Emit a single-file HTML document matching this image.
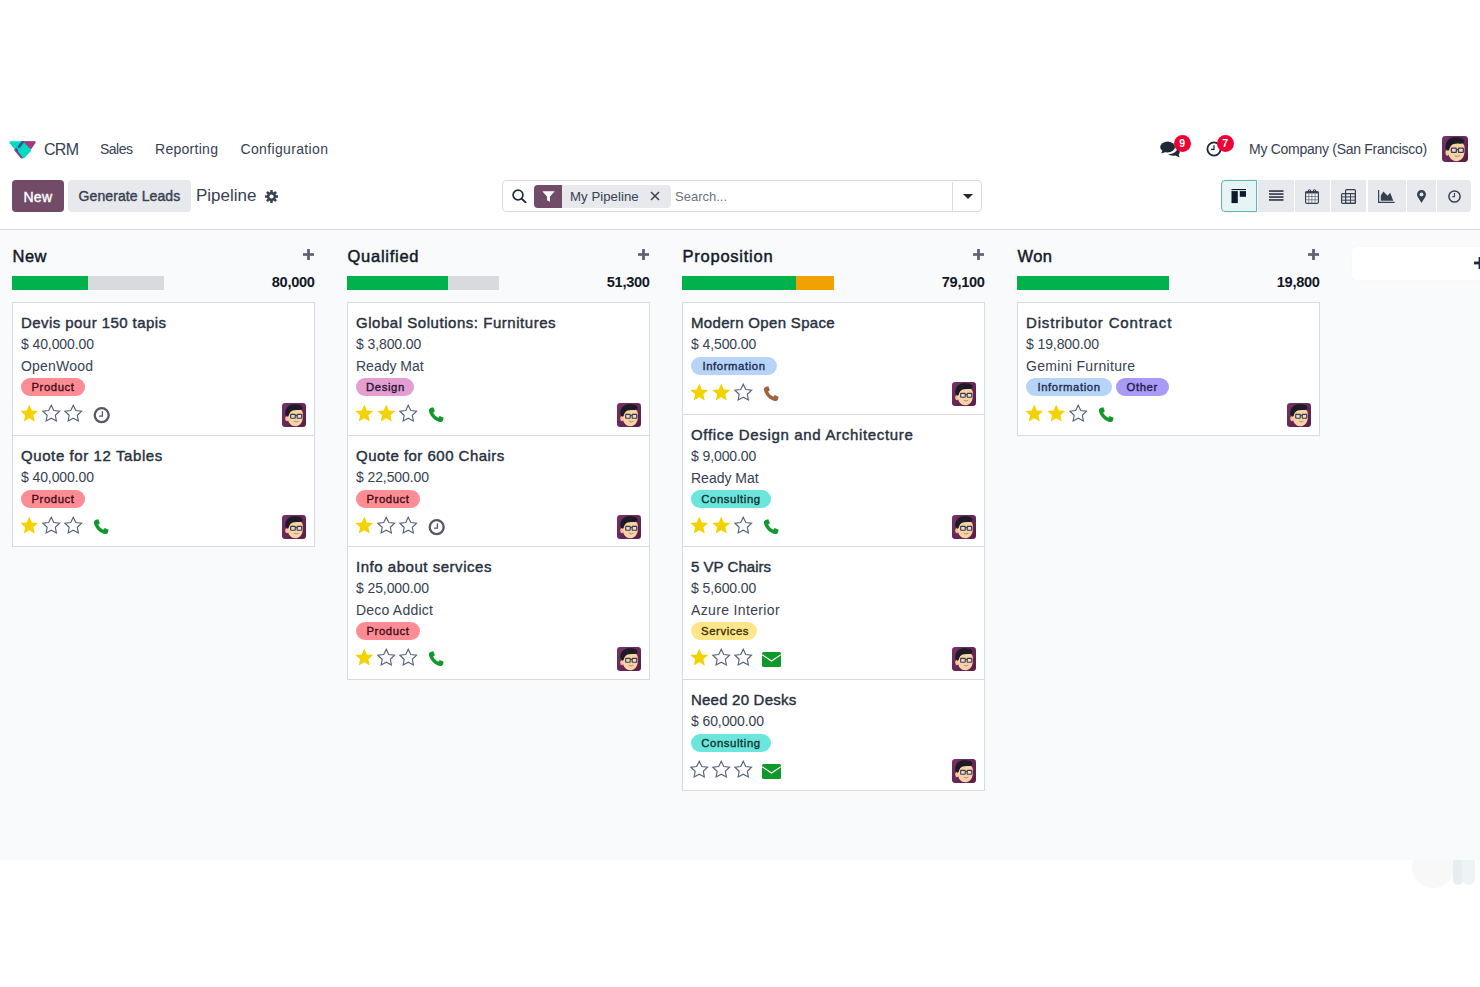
<!DOCTYPE html>
<html><head><meta charset="utf-8"><title>CRM Pipeline</title>
<style>
*{margin:0;padding:0;box-sizing:border-box}
html,body{width:1480px;height:987px;overflow:hidden;background:#fff;
 font-family:"Liberation Sans",sans-serif;color:#374151}
.t{position:absolute;white-space:nowrap}
.a{position:absolute}
#kb{position:absolute;left:0;top:229px;width:1480px;height:631px;background:#f9fafb;border-top:1px solid #d8dadd}
.card{position:absolute;width:303px;background:#fff;border:1px solid #d8dadd}
.tag{position:absolute;height:18.5px;border-radius:9.25px;font-size:11.3px;line-height:18.5px;letter-spacing:0.6px;-webkit-text-stroke:0.35px currentColor;
 padding:0 10px;white-space:nowrap;color:#1f2937}
.bar{position:absolute;height:14px;background:#d8dadd}
</style></head>
<body>
<svg class="a" style="left:9px;top:141px" width="27" height="18" viewBox="0 0 27 18"><path d="M1.6 0.3 L25.4 0.3 Q27.2 0.5 26.2 2.2 L15 16.8 Q13.9 18 12.8 16.8 L0.7 2.2 Q-0.2 0.5 1.6 0.3 Z" fill="#00dcc0"/><path d="M13.6 0.3 L25.4 0.3 Q27.2 0.5 26.2 2.2 L21.9 8.6 Z" fill="#a9367f"/><path d="M4.9 8.9 L7.4 6.9 L14.6 15.2 L13.2 17.2 Q12.4 17.8 11.6 17 Z" fill="#b03a84"/><path d="M7.3 8.4 L13.6 15.7" stroke="#3b4aa0" stroke-width="2.2" stroke-linecap="round"/><path d="M15.2 3.9 Q15.7 3.5 16.2 3.9 L22 9 Q22.5 9.6 22 10.1 L15.2 17 Q14.6 17.5 14 17 L8.9 10.4 Q8.5 9.8 9 9.3 Z" fill="#00dcc0"/><path d="M10 5.8 L13.5 1.3" stroke="#3b4aa0" stroke-width="2.6" stroke-linecap="round"/></svg>
<div class="t" style="left:44px;top:139.15px;font-size:16px;line-height:21px;color:#374151;letter-spacing:-0.7px;">CRM</div>
<div class="t" style="left:100px;top:140.15px;font-size:14px;line-height:18px;color:#374151;letter-spacing:-0.5px;">Sales</div>
<div class="t" style="left:155px;top:140.15px;font-size:14px;line-height:18px;color:#374151;letter-spacing:0.28px;">Reporting</div>
<div class="t" style="left:240.5px;top:140.15px;font-size:14px;line-height:18px;color:#374151;letter-spacing:0.35px;">Configuration</div>
<svg class="a" style="left:1160px;top:141px" width="20" height="17" viewBox="0 0 20 17"><ellipse cx="7.6" cy="6" rx="7.4" ry="5.4" fill="#1f2937"/><path d="M2.6 9.2 L1.3 12.6 L6.6 10.8 Z" fill="#1f2937"/><path d="M8.2 13.1 C12.8 13.2 16.8 11 17.6 7.3 C19.6 8.4 20.2 10.6 19.4 12.4 L18.6 13.4 L19.6 16.4 L15.4 14.4 C12.8 15.2 10 14.6 8.2 13.1 Z" fill="#1f2937"/></svg>
<div class="a" style="left:1173.5px;top:134.8px;width:17.2px;height:17.2px;border-radius:50%;background:#ee0035;color:#fff;font-size:10.5px;line-height:17.2px;text-align:center;font-weight:bold">9</div>
<svg class="a" style="left:1205.5px;top:141px" width="16" height="16" viewBox="0 0 16 16"><circle cx="8" cy="8" r="6.6" fill="none" stroke="#1f2937" stroke-width="1.8"/><path d="M8 4.2V8.3H5" fill="none" stroke="#1f2937" stroke-width="1.3"/></svg>
<div class="a" style="left:1216.5px;top:134.8px;width:17.2px;height:17.2px;border-radius:50%;background:#ee0035;color:#fff;font-size:10.5px;line-height:17.2px;text-align:center;font-weight:bold">7</div>
<div class="t" style="left:1249px;top:140.15px;font-size:14px;line-height:18px;color:#374151;letter-spacing:-0.28px;">My Company (San Francisco)</div>
<div class="a" style="left:1442px;top:136px"><svg width="26" height="26" viewBox="0 0 24 24"><defs><linearGradient id="avg" x1="0" y1="0" x2="1" y2="1"><stop offset="0" stop-color="#76336a"/><stop offset="1" stop-color="#5a1c47"/></linearGradient></defs><rect width="24" height="24" rx="3.2" fill="url(#avg)"/><ellipse cx="4.9" cy="15.6" rx="1.7" ry="2.6" fill="#f2c596"/><path d="M5.6 10 C6 6.5 9 5.6 13 5.6 C17.5 5.6 20.6 7 20.8 10.5 L20.7 15.5 C20.3 20.2 17 23.3 13.2 23.3 C9.2 23.3 6.2 20 5.9 15.8 Z" fill="#f8d2a4"/><path d="M3.4 11.5 C2.6 6 6 1.5 11.5 1.2 C16 1 20.8 1.8 20.6 5.2 C20 6.8 17.5 7.2 14.8 7 C11.8 6.9 9.6 7.6 8.2 9.2 C7.3 10.3 6.8 11.8 6.5 13.2 L5 13.4 Z" fill="#1d1b24"/><rect x="8.7" y="11.3" width="4.5" height="3.9" rx=".5" fill="#e6dcd8" stroke="#3b3a45" stroke-width="1.15"/><rect x="15.2" y="11.3" width="4.5" height="3.9" rx=".5" fill="#e6dcd8" stroke="#3b3a45" stroke-width="1.15"/><path d="M13.2 12.6 H15.2" stroke="#3b3a45" stroke-width="1"/><path d="M11.9 18.2 Q14.2 19.9 16.4 18.1" fill="#c9ccd6" stroke="#8c7e80" stroke-width=".7"/></svg></div>
<div class="a" style="left:12px;top:180.3px;width:52px;height:32.2px;background:#714b67;border-radius:4px"></div>
<div class="t" style="left:23.5px;top:187.55px;font-size:14px;line-height:18px;color:#fff;letter-spacing:0.25px;-webkit-text-stroke:0.4px #fff;">New</div>
<div class="a" style="left:68px;top:180.3px;width:123px;height:32.2px;background:#e7e9ed;border-radius:4px"></div>
<div class="t" style="left:78.5px;top:186.95px;font-size:14px;line-height:18px;color:#374151;letter-spacing:0.1px;-webkit-text-stroke:0.4px #374151;">Generate Leads</div>
<div class="t" style="left:196px;top:184.51px;font-size:17px;line-height:22px;color:#374151;">Pipeline</div>
<svg class="a" style="left:264.5px;top:189.8px" width="13" height="13" viewBox="0 0 13 13"><rect x="5.2" y="0" width="2.6" height="13" rx="0.4" fill="#374151" transform="rotate(0 6.5 6.5)"/><rect x="5.2" y="0" width="2.6" height="13" rx="0.4" fill="#374151" transform="rotate(45 6.5 6.5)"/><rect x="5.2" y="0" width="2.6" height="13" rx="0.4" fill="#374151" transform="rotate(90 6.5 6.5)"/><rect x="5.2" y="0" width="2.6" height="13" rx="0.4" fill="#374151" transform="rotate(135 6.5 6.5)"/><circle cx="6.5" cy="6.5" r="4.5" fill="#374151"/><circle cx="6.5" cy="6.5" r="2.05" fill="#fff"/></svg>
<div class="a" style="left:501.5px;top:180.3px;width:480px;height:32.2px;border:1px solid #d8dadd;border-radius:4px;background:#fff"></div>
<div class="a" style="left:952px;top:181.5px;width:1px;height:30px;background:#d8dadd"></div>
<svg class="a" style="left:511.5px;top:189px" width="15" height="14" viewBox="0 0 15 14"><circle cx="6" cy="6" r="4.9" fill="none" stroke="#1f2937" stroke-width="1.7"/><path d="M9.6 9.6 L13.6 13.4" stroke="#1f2937" stroke-width="1.9" stroke-linecap="round"/></svg>
<div class="a" style="left:534px;top:185px;width:136.5px;height:23px;background:#e7e9ed;border-radius:4px"></div>
<div class="a" style="left:534px;top:185px;width:28px;height:23px;background:#714b67;border-radius:4px 0 0 4px"></div>
<svg class="a" style="left:541.5px;top:191px" width="13" height="11" viewBox="0 0 13 11"><path d="M0.3 0.3 H12.7 L8 5.4 V10.8 L5 9.2 V5.4 Z" fill="#fff"/></svg>
<div class="t" style="left:570px;top:187.92px;font-size:13.2px;line-height:17px;color:#374151;letter-spacing:0.05px;">My Pipeline</div>
<svg class="a" style="left:650px;top:191px" width="10" height="10" viewBox="0 0 10 10"><path d="M1 1 L9 9 M9 1 L1 9" stroke="#374151" stroke-width="1.5"/></svg>
<div class="t" style="left:675px;top:188.19px;font-size:13px;line-height:17px;color:#6b7280;">Search...</div>
<svg class="a" style="left:962.5px;top:194px" width="10" height="5" viewBox="0 0 10 5"><path d="M0 0 H10 L5 5 Z" fill="#1f2937"/></svg>
<div class="a" style="left:1221px;top:180.3px;width:36px;height:32.2px;background:#e6f4f6;border:1px solid #5fb3b5;border-radius:4px 0 0 4px"></div>
<div class="a" style="left:1258px;top:180.3px;width:36px;height:32.2px;background:#e7e9ed;"></div>
<div class="a" style="left:1295px;top:180.3px;width:35px;height:32.2px;background:#e7e9ed;"></div>
<div class="a" style="left:1331px;top:180.3px;width:35px;height:32.2px;background:#e7e9ed;"></div>
<div class="a" style="left:1368px;top:180.3px;width:38px;height:32.2px;background:#e7e9ed;"></div>
<div class="a" style="left:1407px;top:180.3px;width:29px;height:32.2px;background:#e7e9ed;"></div>
<div class="a" style="left:1437px;top:180.3px;width:34px;height:32.2px;background:#e7e9ed;border-radius:0 4px 4px 0;"></div>
<svg class="a" style="left:1231px;top:189px" width="15" height="15" viewBox="0 0 15 15"><rect x="0.5" y="0" width="14.5" height="1.1" fill="#111827"/><rect x="0.5" y="2.1" width="6.3" height="12" fill="#111827"/><rect x="8.8" y="2.1" width="6.2" height="5.7" fill="#111827"/></svg>
<svg class="a" style="left:1268.5px;top:190px" width="15" height="11" viewBox="0 0 15 11"><rect x="0" y="0.2" width="14.5" height="1.7" fill="#374151"/><rect x="0" y="3.2" width="14.5" height="1.7" fill="#374151"/><rect x="0" y="6.2" width="14.5" height="1.7" fill="#374151"/><rect x="0" y="9.1" width="14.5" height="1.7" fill="#374151"/></svg>
<svg class="a" style="left:1305px;top:189px" width="14" height="15" viewBox="0 0 14 15"><rect x="0.6" y="2.6" width="12.8" height="11.8" rx="1.3" fill="#fff" stroke="#374151" stroke-width="1.2"/><rect x="0.6" y="2.6" width="12.8" height="1.9" fill="#374151"/><path d="M3.3 3V1.9A1.2 1.2 0 0 1 5.7 1.9V3M8.3 3V1.9A1.2 1.2 0 0 1 10.7 1.9V3" fill="none" stroke="#374151" stroke-width="1.1"/><path d="M3.8 4.5V14M6.9 4.5V14M10 4.5V14M0.6 7.6H13.4M0.6 10.8H13.4" stroke="#374151" stroke-width=".6"/></svg>
<svg class="a" style="left:1341px;top:189px" width="15" height="15" viewBox="0 0 15 15"><rect x="4.6" y="0.6" width="9.8" height="13.8" rx="1" fill="none" stroke="#374151" stroke-width="1.2"/><rect x="0.6" y="4.6" width="13.8" height="9.8" rx="1" fill="none" stroke="#374151" stroke-width="1.2"/><path d="M4.6 4.6V14.4M9.5 4.6V14.4M0.6 7.9H14.4M0.6 11.2H14.4" stroke="#374151" stroke-width="1"/></svg>
<svg class="a" style="left:1378px;top:190px" width="17" height="13" viewBox="0 0 17 13"><path d="M0.6 0 V12.3 H16.6" fill="none" stroke="#374151" stroke-width="1.2"/><path d="M2.8 10.8 V5.4 L5.4 1.4 L9.6 5.8 L12.2 2.8 L15.2 10.8 Z" fill="#374151"/></svg>
<svg class="a" style="left:1417px;top:190px" width="9" height="13" viewBox="0 0 9 13"><path d="M4.5 0 C7 0 9 2 9 4.5 C9 7 6 10 4.5 13 C3 10 0 7 0 4.5 C0 2 2 0 4.5 0 Z" fill="#374151"/><circle cx="4.5" cy="4.4" r="1.9" fill="#e7e9ed"/></svg>
<svg class="a" style="left:1448px;top:190px" width="13" height="13" viewBox="0 0 13 13"><circle cx="6.5" cy="6.5" r="5.6" fill="none" stroke="#374151" stroke-width="1.5"/><path d="M6.5 3 V6.8 H4" fill="none" stroke="#374151" stroke-width="1.1"/></svg>
<div class="a" style="left:1412px;top:846px;width:42px;height:42px;border-radius:50%;background:#f8f8f8"></div>
<div class="a" style="left:1453px;top:840px;width:9.5px;height:44.5px;border-radius:0 0 5px 5px;background:#e8eef0"></div>
<div class="a" style="left:1461.5px;top:840px;width:13.5px;height:45px;border-radius:0 0 7px 7px;background:#ecf4f6"></div>
<div id="kb"></div>
<div class="t" style="left:12.5px;top:245.98px;font-size:16.5px;line-height:21px;color:#111827;letter-spacing:0.5px;-webkit-text-stroke:0.45px #111827;">New</div>
<div class="a" style="left:302.9px;top:249.1px;line-height:0"><svg width="11" height="11" viewBox="0 0 11 11"><rect x="4.1" y="0" width="2.8" height="11" fill="#5f6473"/><rect x="0" y="4.15" width="11" height="2.7" fill="#5f6473"/></svg></div>
<div class="bar" style="left:12px;top:276px;width:152px"></div>
<div class="a" style="left:12px;top:276px;width:76px;height:14px;background:#00b24c"></div>
<div class="t" style="right:1165.4px;top:273.14px;font-size:14.6px;line-height:19px;color:#111827;font-weight:bold;letter-spacing:-0.3px;">80,000</div>
<div class="t" style="left:347.5px;top:245.98px;font-size:16.5px;line-height:21px;color:#111827;letter-spacing:0.74px;-webkit-text-stroke:0.45px #111827;">Qualified</div>
<div class="a" style="left:637.9px;top:249.1px;line-height:0"><svg width="11" height="11" viewBox="0 0 11 11"><rect x="4.1" y="0" width="2.8" height="11" fill="#5f6473"/><rect x="0" y="4.15" width="11" height="2.7" fill="#5f6473"/></svg></div>
<div class="bar" style="left:347px;top:276px;width:152px"></div>
<div class="a" style="left:347px;top:276px;width:101px;height:14px;background:#00b24c"></div>
<div class="t" style="right:830.4px;top:273.14px;font-size:14.6px;line-height:19px;color:#111827;font-weight:bold;letter-spacing:-0.3px;">51,300</div>
<div class="t" style="left:682.5px;top:245.98px;font-size:16.5px;line-height:21px;color:#111827;letter-spacing:0.76px;-webkit-text-stroke:0.45px #111827;">Proposition</div>
<div class="a" style="left:972.9px;top:249.1px;line-height:0"><svg width="11" height="11" viewBox="0 0 11 11"><rect x="4.1" y="0" width="2.8" height="11" fill="#5f6473"/><rect x="0" y="4.15" width="11" height="2.7" fill="#5f6473"/></svg></div>
<div class="bar" style="left:682px;top:276px;width:152px"></div>
<div class="a" style="left:682px;top:276px;width:114px;height:14px;background:#00b24c"></div>
<div class="a" style="left:796px;top:276px;width:38px;height:14px;background:#f2a104"></div>
<div class="t" style="right:495.4px;top:273.14px;font-size:14.6px;line-height:19px;color:#111827;font-weight:bold;letter-spacing:-0.3px;">79,100</div>
<div class="t" style="left:1017.5px;top:245.98px;font-size:16.5px;line-height:21px;color:#111827;letter-spacing:0.4px;-webkit-text-stroke:0.45px #111827;">Won</div>
<div class="a" style="left:1307.9px;top:249.1px;line-height:0"><svg width="11" height="11" viewBox="0 0 11 11"><rect x="4.1" y="0" width="2.8" height="11" fill="#5f6473"/><rect x="0" y="4.15" width="11" height="2.7" fill="#5f6473"/></svg></div>
<div class="bar" style="left:1017px;top:276px;width:152px"></div>
<div class="a" style="left:1017px;top:276px;width:152px;height:14px;background:#00b24c"></div>
<div class="t" style="right:160.4000000000001px;top:273.14px;font-size:14.6px;line-height:19px;color:#111827;font-weight:bold;letter-spacing:-0.3px;">19,800</div>
<div class="card" style="left:12px;top:302px;height:134px"></div>
<div class="t" style="left:21px;top:312.80px;font-size:15px;line-height:20px;color:#283140;letter-spacing:0.437px;-webkit-text-stroke:0.42px #283140;">Devis pour 150 tapis</div>
<div class="t" style="left:21px;top:335.45px;font-size:14px;line-height:18px;color:#374151;letter-spacing:-0.1px;">$ 40,000.00</div>
<div class="t" style="left:21px;top:356.65px;font-size:14px;line-height:18px;color:#374151;letter-spacing:0.21px;">OpenWood</div>
<div class="tag" style="left:21px;top:377.9px;background:#fe8c94;color:#3e0c14;width:64px;text-align:center">Product</div>
<div class="a" style="left:20.1px;top:404.09999999999997px;line-height:0"><svg width="19" height="19" viewBox="0 0 19 19"><polygon points="9.25,0.50 11.78,6.42 18.19,7.00 13.34,11.23 14.78,17.50 9.25,14.20 3.72,17.50 5.16,11.23 0.31,7.00 6.72,6.42" fill="#f4d200"/></svg></div>
<div class="a" style="left:41.8px;top:404.09999999999997px;line-height:0"><svg width="19" height="19" viewBox="0 0 19 19"><polygon points="9.25,1.20 11.78,6.47 17.57,7.25 13.34,11.28 14.39,17.03 9.25,14.25 4.11,17.03 5.16,11.28 0.93,7.25 6.72,6.47" fill="none" stroke="#5a6478" stroke-width="1.15" stroke-linejoin="miter"/></svg></div>
<div class="a" style="left:63.5px;top:404.09999999999997px;line-height:0"><svg width="19" height="19" viewBox="0 0 19 19"><polygon points="9.25,1.20 11.78,6.47 17.57,7.25 13.34,11.28 14.39,17.03 9.25,14.25 4.11,17.03 5.16,11.28 0.93,7.25 6.72,6.47" fill="none" stroke="#5a6478" stroke-width="1.15" stroke-linejoin="miter"/></svg></div>
<div class="a" style="left:93px;top:406.79999999999995px;line-height:0"><svg width="18" height="18" viewBox="0 0 18 18"><circle cx="8.7" cy="8.2" r="7.0" fill="none" stroke="#545868" stroke-width="2.3"/><path d="M9.4 4.2V9.1H6" fill="none" stroke="#545868" stroke-width="1.3"/></svg></div>
<div class="a" style="left:282px;top:402.7px;line-height:0"><svg width="24" height="24" viewBox="0 0 24 24"><defs><linearGradient id="avg" x1="0" y1="0" x2="1" y2="1"><stop offset="0" stop-color="#76336a"/><stop offset="1" stop-color="#5a1c47"/></linearGradient></defs><rect width="24" height="24" rx="3.2" fill="url(#avg)"/><ellipse cx="4.9" cy="15.6" rx="1.7" ry="2.6" fill="#f2c596"/><path d="M5.6 10 C6 6.5 9 5.6 13 5.6 C17.5 5.6 20.6 7 20.8 10.5 L20.7 15.5 C20.3 20.2 17 23.3 13.2 23.3 C9.2 23.3 6.2 20 5.9 15.8 Z" fill="#f8d2a4"/><path d="M3.4 11.5 C2.6 6 6 1.5 11.5 1.2 C16 1 20.8 1.8 20.6 5.2 C20 6.8 17.5 7.2 14.8 7 C11.8 6.9 9.6 7.6 8.2 9.2 C7.3 10.3 6.8 11.8 6.5 13.2 L5 13.4 Z" fill="#1d1b24"/><rect x="8.7" y="11.3" width="4.5" height="3.9" rx=".5" fill="#e6dcd8" stroke="#3b3a45" stroke-width="1.15"/><rect x="15.2" y="11.3" width="4.5" height="3.9" rx=".5" fill="#e6dcd8" stroke="#3b3a45" stroke-width="1.15"/><path d="M13.2 12.6 H15.2" stroke="#3b3a45" stroke-width="1"/><path d="M11.9 18.2 Q14.2 19.9 16.4 18.1" fill="#c9ccd6" stroke="#8c7e80" stroke-width=".7"/></svg></div>
<div class="card" style="left:12px;top:435px;height:112px"></div>
<div class="t" style="left:21px;top:445.80px;font-size:15px;line-height:20px;color:#283140;letter-spacing:0.589px;-webkit-text-stroke:0.42px #283140;">Quote for 12 Tables</div>
<div class="t" style="left:21px;top:468.45px;font-size:14px;line-height:18px;color:#374151;letter-spacing:-0.1px;">$ 40,000.00</div>
<div class="tag" style="left:21px;top:489.8px;background:#fe8c94;color:#3e0c14;width:64px;text-align:center">Product</div>
<div class="a" style="left:20.1px;top:516.0px;line-height:0"><svg width="19" height="19" viewBox="0 0 19 19"><polygon points="9.25,0.50 11.78,6.42 18.19,7.00 13.34,11.23 14.78,17.50 9.25,14.20 3.72,17.50 5.16,11.23 0.31,7.00 6.72,6.42" fill="#f4d200"/></svg></div>
<div class="a" style="left:41.8px;top:516.0px;line-height:0"><svg width="19" height="19" viewBox="0 0 19 19"><polygon points="9.25,1.20 11.78,6.47 17.57,7.25 13.34,11.28 14.39,17.03 9.25,14.25 4.11,17.03 5.16,11.28 0.93,7.25 6.72,6.47" fill="none" stroke="#5a6478" stroke-width="1.15" stroke-linejoin="miter"/></svg></div>
<div class="a" style="left:63.5px;top:516.0px;line-height:0"><svg width="19" height="19" viewBox="0 0 19 19"><polygon points="9.25,1.20 11.78,6.47 17.57,7.25 13.34,11.28 14.39,17.03 9.25,14.25 4.11,17.03 5.16,11.28 0.93,7.25 6.72,6.47" fill="none" stroke="#5a6478" stroke-width="1.15" stroke-linejoin="miter"/></svg></div>
<div class="a" style="left:93.2px;top:519.1px;line-height:0"><svg width="16" height="16" viewBox="0 0 16 16"><path d="M3.2 0.8 L5.3 0.3 L6.9 4.2 L5.2 5.6 C6.1 7.9 7.9 9.8 10.3 10.8 L11.8 9.1 L15.6 10.8 L15.1 12.9 C14.7 14.4 13.4 15.3 11.9 15 C6.6 13.8 2.1 9.3 0.9 4 C0.6 2.5 1.6 1.1 3.2 0.8 Z" fill="#11982a"/></svg></div>
<div class="a" style="left:282px;top:514.6px;line-height:0"><svg width="24" height="24" viewBox="0 0 24 24"><defs><linearGradient id="avg" x1="0" y1="0" x2="1" y2="1"><stop offset="0" stop-color="#76336a"/><stop offset="1" stop-color="#5a1c47"/></linearGradient></defs><rect width="24" height="24" rx="3.2" fill="url(#avg)"/><ellipse cx="4.9" cy="15.6" rx="1.7" ry="2.6" fill="#f2c596"/><path d="M5.6 10 C6 6.5 9 5.6 13 5.6 C17.5 5.6 20.6 7 20.8 10.5 L20.7 15.5 C20.3 20.2 17 23.3 13.2 23.3 C9.2 23.3 6.2 20 5.9 15.8 Z" fill="#f8d2a4"/><path d="M3.4 11.5 C2.6 6 6 1.5 11.5 1.2 C16 1 20.8 1.8 20.6 5.2 C20 6.8 17.5 7.2 14.8 7 C11.8 6.9 9.6 7.6 8.2 9.2 C7.3 10.3 6.8 11.8 6.5 13.2 L5 13.4 Z" fill="#1d1b24"/><rect x="8.7" y="11.3" width="4.5" height="3.9" rx=".5" fill="#e6dcd8" stroke="#3b3a45" stroke-width="1.15"/><rect x="15.2" y="11.3" width="4.5" height="3.9" rx=".5" fill="#e6dcd8" stroke="#3b3a45" stroke-width="1.15"/><path d="M13.2 12.6 H15.2" stroke="#3b3a45" stroke-width="1"/><path d="M11.9 18.2 Q14.2 19.9 16.4 18.1" fill="#c9ccd6" stroke="#8c7e80" stroke-width=".7"/></svg></div>
<div class="card" style="left:347px;top:302px;height:134px"></div>
<div class="t" style="left:356px;top:312.80px;font-size:15px;line-height:20px;color:#283140;letter-spacing:0.537px;-webkit-text-stroke:0.42px #283140;">Global Solutions: Furnitures</div>
<div class="t" style="left:356px;top:335.45px;font-size:14px;line-height:18px;color:#374151;letter-spacing:-0.1px;">$ 3,800.00</div>
<div class="t" style="left:356px;top:356.65px;font-size:14px;line-height:18px;color:#374151;">Ready Mat</div>
<div class="tag" style="left:356px;top:377.9px;background:#e59ed2;color:#1e1430;width:58px;text-align:center">Design</div>
<div class="a" style="left:355.1px;top:404.09999999999997px;line-height:0"><svg width="19" height="19" viewBox="0 0 19 19"><polygon points="9.25,0.50 11.78,6.42 18.19,7.00 13.34,11.23 14.78,17.50 9.25,14.20 3.72,17.50 5.16,11.23 0.31,7.00 6.72,6.42" fill="#f4d200"/></svg></div>
<div class="a" style="left:376.8px;top:404.09999999999997px;line-height:0"><svg width="19" height="19" viewBox="0 0 19 19"><polygon points="9.25,0.50 11.78,6.42 18.19,7.00 13.34,11.23 14.78,17.50 9.25,14.20 3.72,17.50 5.16,11.23 0.31,7.00 6.72,6.42" fill="#f4d200"/></svg></div>
<div class="a" style="left:398.5px;top:404.09999999999997px;line-height:0"><svg width="19" height="19" viewBox="0 0 19 19"><polygon points="9.25,1.20 11.78,6.47 17.57,7.25 13.34,11.28 14.39,17.03 9.25,14.25 4.11,17.03 5.16,11.28 0.93,7.25 6.72,6.47" fill="none" stroke="#5a6478" stroke-width="1.15" stroke-linejoin="miter"/></svg></div>
<div class="a" style="left:428.2px;top:407.2px;line-height:0"><svg width="16" height="16" viewBox="0 0 16 16"><path d="M3.2 0.8 L5.3 0.3 L6.9 4.2 L5.2 5.6 C6.1 7.9 7.9 9.8 10.3 10.8 L11.8 9.1 L15.6 10.8 L15.1 12.9 C14.7 14.4 13.4 15.3 11.9 15 C6.6 13.8 2.1 9.3 0.9 4 C0.6 2.5 1.6 1.1 3.2 0.8 Z" fill="#11982a"/></svg></div>
<div class="a" style="left:617px;top:402.7px;line-height:0"><svg width="24" height="24" viewBox="0 0 24 24"><defs><linearGradient id="avg" x1="0" y1="0" x2="1" y2="1"><stop offset="0" stop-color="#76336a"/><stop offset="1" stop-color="#5a1c47"/></linearGradient></defs><rect width="24" height="24" rx="3.2" fill="url(#avg)"/><ellipse cx="4.9" cy="15.6" rx="1.7" ry="2.6" fill="#f2c596"/><path d="M5.6 10 C6 6.5 9 5.6 13 5.6 C17.5 5.6 20.6 7 20.8 10.5 L20.7 15.5 C20.3 20.2 17 23.3 13.2 23.3 C9.2 23.3 6.2 20 5.9 15.8 Z" fill="#f8d2a4"/><path d="M3.4 11.5 C2.6 6 6 1.5 11.5 1.2 C16 1 20.8 1.8 20.6 5.2 C20 6.8 17.5 7.2 14.8 7 C11.8 6.9 9.6 7.6 8.2 9.2 C7.3 10.3 6.8 11.8 6.5 13.2 L5 13.4 Z" fill="#1d1b24"/><rect x="8.7" y="11.3" width="4.5" height="3.9" rx=".5" fill="#e6dcd8" stroke="#3b3a45" stroke-width="1.15"/><rect x="15.2" y="11.3" width="4.5" height="3.9" rx=".5" fill="#e6dcd8" stroke="#3b3a45" stroke-width="1.15"/><path d="M13.2 12.6 H15.2" stroke="#3b3a45" stroke-width="1"/><path d="M11.9 18.2 Q14.2 19.9 16.4 18.1" fill="#c9ccd6" stroke="#8c7e80" stroke-width=".7"/></svg></div>
<div class="card" style="left:347px;top:435px;height:112px"></div>
<div class="t" style="left:356px;top:445.80px;font-size:15px;line-height:20px;color:#283140;letter-spacing:0.479px;-webkit-text-stroke:0.42px #283140;">Quote for 600 Chairs</div>
<div class="t" style="left:356px;top:468.45px;font-size:14px;line-height:18px;color:#374151;letter-spacing:-0.1px;">$ 22,500.00</div>
<div class="tag" style="left:356px;top:489.8px;background:#fe8c94;color:#3e0c14;width:64px;text-align:center">Product</div>
<div class="a" style="left:355.1px;top:516.0px;line-height:0"><svg width="19" height="19" viewBox="0 0 19 19"><polygon points="9.25,0.50 11.78,6.42 18.19,7.00 13.34,11.23 14.78,17.50 9.25,14.20 3.72,17.50 5.16,11.23 0.31,7.00 6.72,6.42" fill="#f4d200"/></svg></div>
<div class="a" style="left:376.8px;top:516.0px;line-height:0"><svg width="19" height="19" viewBox="0 0 19 19"><polygon points="9.25,1.20 11.78,6.47 17.57,7.25 13.34,11.28 14.39,17.03 9.25,14.25 4.11,17.03 5.16,11.28 0.93,7.25 6.72,6.47" fill="none" stroke="#5a6478" stroke-width="1.15" stroke-linejoin="miter"/></svg></div>
<div class="a" style="left:398.5px;top:516.0px;line-height:0"><svg width="19" height="19" viewBox="0 0 19 19"><polygon points="9.25,1.20 11.78,6.47 17.57,7.25 13.34,11.28 14.39,17.03 9.25,14.25 4.11,17.03 5.16,11.28 0.93,7.25 6.72,6.47" fill="none" stroke="#5a6478" stroke-width="1.15" stroke-linejoin="miter"/></svg></div>
<div class="a" style="left:428px;top:518.7px;line-height:0"><svg width="18" height="18" viewBox="0 0 18 18"><circle cx="8.7" cy="8.2" r="7.0" fill="none" stroke="#545868" stroke-width="2.3"/><path d="M9.4 4.2V9.1H6" fill="none" stroke="#545868" stroke-width="1.3"/></svg></div>
<div class="a" style="left:617px;top:514.6px;line-height:0"><svg width="24" height="24" viewBox="0 0 24 24"><defs><linearGradient id="avg" x1="0" y1="0" x2="1" y2="1"><stop offset="0" stop-color="#76336a"/><stop offset="1" stop-color="#5a1c47"/></linearGradient></defs><rect width="24" height="24" rx="3.2" fill="url(#avg)"/><ellipse cx="4.9" cy="15.6" rx="1.7" ry="2.6" fill="#f2c596"/><path d="M5.6 10 C6 6.5 9 5.6 13 5.6 C17.5 5.6 20.6 7 20.8 10.5 L20.7 15.5 C20.3 20.2 17 23.3 13.2 23.3 C9.2 23.3 6.2 20 5.9 15.8 Z" fill="#f8d2a4"/><path d="M3.4 11.5 C2.6 6 6 1.5 11.5 1.2 C16 1 20.8 1.8 20.6 5.2 C20 6.8 17.5 7.2 14.8 7 C11.8 6.9 9.6 7.6 8.2 9.2 C7.3 10.3 6.8 11.8 6.5 13.2 L5 13.4 Z" fill="#1d1b24"/><rect x="8.7" y="11.3" width="4.5" height="3.9" rx=".5" fill="#e6dcd8" stroke="#3b3a45" stroke-width="1.15"/><rect x="15.2" y="11.3" width="4.5" height="3.9" rx=".5" fill="#e6dcd8" stroke="#3b3a45" stroke-width="1.15"/><path d="M13.2 12.6 H15.2" stroke="#3b3a45" stroke-width="1"/><path d="M11.9 18.2 Q14.2 19.9 16.4 18.1" fill="#c9ccd6" stroke="#8c7e80" stroke-width=".7"/></svg></div>
<div class="card" style="left:347px;top:546px;height:134px"></div>
<div class="t" style="left:356px;top:556.80px;font-size:15px;line-height:20px;color:#283140;letter-spacing:0.528px;-webkit-text-stroke:0.42px #283140;">Info about services</div>
<div class="t" style="left:356px;top:579.45px;font-size:14px;line-height:18px;color:#374151;letter-spacing:-0.1px;">$ 25,000.00</div>
<div class="t" style="left:356px;top:600.65px;font-size:14px;line-height:18px;color:#374151;letter-spacing:0.21px;">Deco Addict</div>
<div class="tag" style="left:356px;top:621.9px;background:#fe8c94;color:#3e0c14;width:64px;text-align:center">Product</div>
<div class="a" style="left:355.1px;top:648.1px;line-height:0"><svg width="19" height="19" viewBox="0 0 19 19"><polygon points="9.25,0.50 11.78,6.42 18.19,7.00 13.34,11.23 14.78,17.50 9.25,14.20 3.72,17.50 5.16,11.23 0.31,7.00 6.72,6.42" fill="#f4d200"/></svg></div>
<div class="a" style="left:376.8px;top:648.1px;line-height:0"><svg width="19" height="19" viewBox="0 0 19 19"><polygon points="9.25,1.20 11.78,6.47 17.57,7.25 13.34,11.28 14.39,17.03 9.25,14.25 4.11,17.03 5.16,11.28 0.93,7.25 6.72,6.47" fill="none" stroke="#5a6478" stroke-width="1.15" stroke-linejoin="miter"/></svg></div>
<div class="a" style="left:398.5px;top:648.1px;line-height:0"><svg width="19" height="19" viewBox="0 0 19 19"><polygon points="9.25,1.20 11.78,6.47 17.57,7.25 13.34,11.28 14.39,17.03 9.25,14.25 4.11,17.03 5.16,11.28 0.93,7.25 6.72,6.47" fill="none" stroke="#5a6478" stroke-width="1.15" stroke-linejoin="miter"/></svg></div>
<div class="a" style="left:428.2px;top:651.2px;line-height:0"><svg width="16" height="16" viewBox="0 0 16 16"><path d="M3.2 0.8 L5.3 0.3 L6.9 4.2 L5.2 5.6 C6.1 7.9 7.9 9.8 10.3 10.8 L11.8 9.1 L15.6 10.8 L15.1 12.9 C14.7 14.4 13.4 15.3 11.9 15 C6.6 13.8 2.1 9.3 0.9 4 C0.6 2.5 1.6 1.1 3.2 0.8 Z" fill="#11982a"/></svg></div>
<div class="a" style="left:617px;top:646.6999999999999px;line-height:0"><svg width="24" height="24" viewBox="0 0 24 24"><defs><linearGradient id="avg" x1="0" y1="0" x2="1" y2="1"><stop offset="0" stop-color="#76336a"/><stop offset="1" stop-color="#5a1c47"/></linearGradient></defs><rect width="24" height="24" rx="3.2" fill="url(#avg)"/><ellipse cx="4.9" cy="15.6" rx="1.7" ry="2.6" fill="#f2c596"/><path d="M5.6 10 C6 6.5 9 5.6 13 5.6 C17.5 5.6 20.6 7 20.8 10.5 L20.7 15.5 C20.3 20.2 17 23.3 13.2 23.3 C9.2 23.3 6.2 20 5.9 15.8 Z" fill="#f8d2a4"/><path d="M3.4 11.5 C2.6 6 6 1.5 11.5 1.2 C16 1 20.8 1.8 20.6 5.2 C20 6.8 17.5 7.2 14.8 7 C11.8 6.9 9.6 7.6 8.2 9.2 C7.3 10.3 6.8 11.8 6.5 13.2 L5 13.4 Z" fill="#1d1b24"/><rect x="8.7" y="11.3" width="4.5" height="3.9" rx=".5" fill="#e6dcd8" stroke="#3b3a45" stroke-width="1.15"/><rect x="15.2" y="11.3" width="4.5" height="3.9" rx=".5" fill="#e6dcd8" stroke="#3b3a45" stroke-width="1.15"/><path d="M13.2 12.6 H15.2" stroke="#3b3a45" stroke-width="1"/><path d="M11.9 18.2 Q14.2 19.9 16.4 18.1" fill="#c9ccd6" stroke="#8c7e80" stroke-width=".7"/></svg></div>
<div class="card" style="left:682px;top:302px;height:113px"></div>
<div class="t" style="left:691px;top:312.80px;font-size:15px;line-height:20px;color:#283140;letter-spacing:0.331px;-webkit-text-stroke:0.42px #283140;">Modern Open Space</div>
<div class="t" style="left:691px;top:335.45px;font-size:14px;line-height:18px;color:#374151;letter-spacing:-0.1px;">$ 4,500.00</div>
<div class="tag" style="left:691px;top:356.8px;background:#b7d4f8;color:#1b2a4e;width:86px;text-align:center">Information</div>
<div class="a" style="left:690.1px;top:383.0px;line-height:0"><svg width="19" height="19" viewBox="0 0 19 19"><polygon points="9.25,0.50 11.78,6.42 18.19,7.00 13.34,11.23 14.78,17.50 9.25,14.20 3.72,17.50 5.16,11.23 0.31,7.00 6.72,6.42" fill="#f4d200"/></svg></div>
<div class="a" style="left:711.8px;top:383.0px;line-height:0"><svg width="19" height="19" viewBox="0 0 19 19"><polygon points="9.25,0.50 11.78,6.42 18.19,7.00 13.34,11.23 14.78,17.50 9.25,14.20 3.72,17.50 5.16,11.23 0.31,7.00 6.72,6.42" fill="#f4d200"/></svg></div>
<div class="a" style="left:733.5px;top:383.0px;line-height:0"><svg width="19" height="19" viewBox="0 0 19 19"><polygon points="9.25,1.20 11.78,6.47 17.57,7.25 13.34,11.28 14.39,17.03 9.25,14.25 4.11,17.03 5.16,11.28 0.93,7.25 6.72,6.47" fill="none" stroke="#5a6478" stroke-width="1.15" stroke-linejoin="miter"/></svg></div>
<div class="a" style="left:763.2px;top:386.1px;line-height:0"><svg width="16" height="16" viewBox="0 0 16 16"><path d="M3.2 0.8 L5.3 0.3 L6.9 4.2 L5.2 5.6 C6.1 7.9 7.9 9.8 10.3 10.8 L11.8 9.1 L15.6 10.8 L15.1 12.9 C14.7 14.4 13.4 15.3 11.9 15 C6.6 13.8 2.1 9.3 0.9 4 C0.6 2.5 1.6 1.1 3.2 0.8 Z" fill="#a0623e"/></svg></div>
<div class="a" style="left:952px;top:381.6px;line-height:0"><svg width="24" height="24" viewBox="0 0 24 24"><defs><linearGradient id="avg" x1="0" y1="0" x2="1" y2="1"><stop offset="0" stop-color="#76336a"/><stop offset="1" stop-color="#5a1c47"/></linearGradient></defs><rect width="24" height="24" rx="3.2" fill="url(#avg)"/><ellipse cx="4.9" cy="15.6" rx="1.7" ry="2.6" fill="#f2c596"/><path d="M5.6 10 C6 6.5 9 5.6 13 5.6 C17.5 5.6 20.6 7 20.8 10.5 L20.7 15.5 C20.3 20.2 17 23.3 13.2 23.3 C9.2 23.3 6.2 20 5.9 15.8 Z" fill="#f8d2a4"/><path d="M3.4 11.5 C2.6 6 6 1.5 11.5 1.2 C16 1 20.8 1.8 20.6 5.2 C20 6.8 17.5 7.2 14.8 7 C11.8 6.9 9.6 7.6 8.2 9.2 C7.3 10.3 6.8 11.8 6.5 13.2 L5 13.4 Z" fill="#1d1b24"/><rect x="8.7" y="11.3" width="4.5" height="3.9" rx=".5" fill="#e6dcd8" stroke="#3b3a45" stroke-width="1.15"/><rect x="15.2" y="11.3" width="4.5" height="3.9" rx=".5" fill="#e6dcd8" stroke="#3b3a45" stroke-width="1.15"/><path d="M13.2 12.6 H15.2" stroke="#3b3a45" stroke-width="1"/><path d="M11.9 18.2 Q14.2 19.9 16.4 18.1" fill="#c9ccd6" stroke="#8c7e80" stroke-width=".7"/></svg></div>
<div class="card" style="left:682px;top:414px;height:133px"></div>
<div class="t" style="left:691px;top:424.80px;font-size:15px;line-height:20px;color:#283140;letter-spacing:0.672px;-webkit-text-stroke:0.42px #283140;">Office Design and Architecture</div>
<div class="t" style="left:691px;top:447.45px;font-size:14px;line-height:18px;color:#374151;letter-spacing:-0.1px;">$ 9,000.00</div>
<div class="t" style="left:691px;top:468.65px;font-size:14px;line-height:18px;color:#374151;">Ready Mat</div>
<div class="tag" style="left:691px;top:489.9px;background:#6ae6dc;color:#10302e;width:80px;text-align:center">Consulting</div>
<div class="a" style="left:690.1px;top:516.1px;line-height:0"><svg width="19" height="19" viewBox="0 0 19 19"><polygon points="9.25,0.50 11.78,6.42 18.19,7.00 13.34,11.23 14.78,17.50 9.25,14.20 3.72,17.50 5.16,11.23 0.31,7.00 6.72,6.42" fill="#f4d200"/></svg></div>
<div class="a" style="left:711.8px;top:516.1px;line-height:0"><svg width="19" height="19" viewBox="0 0 19 19"><polygon points="9.25,0.50 11.78,6.42 18.19,7.00 13.34,11.23 14.78,17.50 9.25,14.20 3.72,17.50 5.16,11.23 0.31,7.00 6.72,6.42" fill="#f4d200"/></svg></div>
<div class="a" style="left:733.5px;top:516.1px;line-height:0"><svg width="19" height="19" viewBox="0 0 19 19"><polygon points="9.25,1.20 11.78,6.47 17.57,7.25 13.34,11.28 14.39,17.03 9.25,14.25 4.11,17.03 5.16,11.28 0.93,7.25 6.72,6.47" fill="none" stroke="#5a6478" stroke-width="1.15" stroke-linejoin="miter"/></svg></div>
<div class="a" style="left:763.2px;top:519.2px;line-height:0"><svg width="16" height="16" viewBox="0 0 16 16"><path d="M3.2 0.8 L5.3 0.3 L6.9 4.2 L5.2 5.6 C6.1 7.9 7.9 9.8 10.3 10.8 L11.8 9.1 L15.6 10.8 L15.1 12.9 C14.7 14.4 13.4 15.3 11.9 15 C6.6 13.8 2.1 9.3 0.9 4 C0.6 2.5 1.6 1.1 3.2 0.8 Z" fill="#11982a"/></svg></div>
<div class="a" style="left:952px;top:514.6999999999999px;line-height:0"><svg width="24" height="24" viewBox="0 0 24 24"><defs><linearGradient id="avg" x1="0" y1="0" x2="1" y2="1"><stop offset="0" stop-color="#76336a"/><stop offset="1" stop-color="#5a1c47"/></linearGradient></defs><rect width="24" height="24" rx="3.2" fill="url(#avg)"/><ellipse cx="4.9" cy="15.6" rx="1.7" ry="2.6" fill="#f2c596"/><path d="M5.6 10 C6 6.5 9 5.6 13 5.6 C17.5 5.6 20.6 7 20.8 10.5 L20.7 15.5 C20.3 20.2 17 23.3 13.2 23.3 C9.2 23.3 6.2 20 5.9 15.8 Z" fill="#f8d2a4"/><path d="M3.4 11.5 C2.6 6 6 1.5 11.5 1.2 C16 1 20.8 1.8 20.6 5.2 C20 6.8 17.5 7.2 14.8 7 C11.8 6.9 9.6 7.6 8.2 9.2 C7.3 10.3 6.8 11.8 6.5 13.2 L5 13.4 Z" fill="#1d1b24"/><rect x="8.7" y="11.3" width="4.5" height="3.9" rx=".5" fill="#e6dcd8" stroke="#3b3a45" stroke-width="1.15"/><rect x="15.2" y="11.3" width="4.5" height="3.9" rx=".5" fill="#e6dcd8" stroke="#3b3a45" stroke-width="1.15"/><path d="M13.2 12.6 H15.2" stroke="#3b3a45" stroke-width="1"/><path d="M11.9 18.2 Q14.2 19.9 16.4 18.1" fill="#c9ccd6" stroke="#8c7e80" stroke-width=".7"/></svg></div>
<div class="card" style="left:682px;top:546px;height:134px"></div>
<div class="t" style="left:691px;top:556.80px;font-size:15px;line-height:20px;color:#283140;letter-spacing:0.03px;-webkit-text-stroke:0.42px #283140;">5 VP Chairs</div>
<div class="t" style="left:691px;top:579.45px;font-size:14px;line-height:18px;color:#374151;letter-spacing:-0.1px;">$ 5,600.00</div>
<div class="t" style="left:691px;top:600.65px;font-size:14px;line-height:18px;color:#374151;letter-spacing:0.35px;">Azure Interior</div>
<div class="tag" style="left:691px;top:621.9px;background:#fde68a;color:#3a2e08;width:65.5px;text-align:center">Services</div>
<div class="a" style="left:690.1px;top:648.1px;line-height:0"><svg width="19" height="19" viewBox="0 0 19 19"><polygon points="9.25,0.50 11.78,6.42 18.19,7.00 13.34,11.23 14.78,17.50 9.25,14.20 3.72,17.50 5.16,11.23 0.31,7.00 6.72,6.42" fill="#f4d200"/></svg></div>
<div class="a" style="left:711.8px;top:648.1px;line-height:0"><svg width="19" height="19" viewBox="0 0 19 19"><polygon points="9.25,1.20 11.78,6.47 17.57,7.25 13.34,11.28 14.39,17.03 9.25,14.25 4.11,17.03 5.16,11.28 0.93,7.25 6.72,6.47" fill="none" stroke="#5a6478" stroke-width="1.15" stroke-linejoin="miter"/></svg></div>
<div class="a" style="left:733.5px;top:648.1px;line-height:0"><svg width="19" height="19" viewBox="0 0 19 19"><polygon points="9.25,1.20 11.78,6.47 17.57,7.25 13.34,11.28 14.39,17.03 9.25,14.25 4.11,17.03 5.16,11.28 0.93,7.25 6.72,6.47" fill="none" stroke="#5a6478" stroke-width="1.15" stroke-linejoin="miter"/></svg></div>
<div class="a" style="left:762.3px;top:652.4px;line-height:0"><svg width="19" height="15" viewBox="0 0 19 15"><rect x="0" y="0" width="19" height="15" rx="1.6" fill="#11982a"/><path d="M0 2.6 L9.5 9 L19 2.6" fill="none" stroke="#fff" stroke-width="1.1"/></svg></div>
<div class="a" style="left:952px;top:646.6999999999999px;line-height:0"><svg width="24" height="24" viewBox="0 0 24 24"><defs><linearGradient id="avg" x1="0" y1="0" x2="1" y2="1"><stop offset="0" stop-color="#76336a"/><stop offset="1" stop-color="#5a1c47"/></linearGradient></defs><rect width="24" height="24" rx="3.2" fill="url(#avg)"/><ellipse cx="4.9" cy="15.6" rx="1.7" ry="2.6" fill="#f2c596"/><path d="M5.6 10 C6 6.5 9 5.6 13 5.6 C17.5 5.6 20.6 7 20.8 10.5 L20.7 15.5 C20.3 20.2 17 23.3 13.2 23.3 C9.2 23.3 6.2 20 5.9 15.8 Z" fill="#f8d2a4"/><path d="M3.4 11.5 C2.6 6 6 1.5 11.5 1.2 C16 1 20.8 1.8 20.6 5.2 C20 6.8 17.5 7.2 14.8 7 C11.8 6.9 9.6 7.6 8.2 9.2 C7.3 10.3 6.8 11.8 6.5 13.2 L5 13.4 Z" fill="#1d1b24"/><rect x="8.7" y="11.3" width="4.5" height="3.9" rx=".5" fill="#e6dcd8" stroke="#3b3a45" stroke-width="1.15"/><rect x="15.2" y="11.3" width="4.5" height="3.9" rx=".5" fill="#e6dcd8" stroke="#3b3a45" stroke-width="1.15"/><path d="M13.2 12.6 H15.2" stroke="#3b3a45" stroke-width="1"/><path d="M11.9 18.2 Q14.2 19.9 16.4 18.1" fill="#c9ccd6" stroke="#8c7e80" stroke-width=".7"/></svg></div>
<div class="card" style="left:682px;top:679px;height:112px"></div>
<div class="t" style="left:691px;top:689.80px;font-size:15px;line-height:20px;color:#283140;letter-spacing:0.217px;-webkit-text-stroke:0.42px #283140;">Need 20 Desks</div>
<div class="t" style="left:691px;top:712.45px;font-size:14px;line-height:18px;color:#374151;letter-spacing:-0.1px;">$ 60,000.00</div>
<div class="tag" style="left:691px;top:733.8px;background:#6ae6dc;color:#10302e;width:80px;text-align:center">Consulting</div>
<div class="a" style="left:690.1px;top:760.0px;line-height:0"><svg width="19" height="19" viewBox="0 0 19 19"><polygon points="9.25,1.20 11.78,6.47 17.57,7.25 13.34,11.28 14.39,17.03 9.25,14.25 4.11,17.03 5.16,11.28 0.93,7.25 6.72,6.47" fill="none" stroke="#5a6478" stroke-width="1.15" stroke-linejoin="miter"/></svg></div>
<div class="a" style="left:711.8px;top:760.0px;line-height:0"><svg width="19" height="19" viewBox="0 0 19 19"><polygon points="9.25,1.20 11.78,6.47 17.57,7.25 13.34,11.28 14.39,17.03 9.25,14.25 4.11,17.03 5.16,11.28 0.93,7.25 6.72,6.47" fill="none" stroke="#5a6478" stroke-width="1.15" stroke-linejoin="miter"/></svg></div>
<div class="a" style="left:733.5px;top:760.0px;line-height:0"><svg width="19" height="19" viewBox="0 0 19 19"><polygon points="9.25,1.20 11.78,6.47 17.57,7.25 13.34,11.28 14.39,17.03 9.25,14.25 4.11,17.03 5.16,11.28 0.93,7.25 6.72,6.47" fill="none" stroke="#5a6478" stroke-width="1.15" stroke-linejoin="miter"/></svg></div>
<div class="a" style="left:762.3px;top:764.3px;line-height:0"><svg width="19" height="15" viewBox="0 0 19 15"><rect x="0" y="0" width="19" height="15" rx="1.6" fill="#11982a"/><path d="M0 2.6 L9.5 9 L19 2.6" fill="none" stroke="#fff" stroke-width="1.1"/></svg></div>
<div class="a" style="left:952px;top:758.5999999999999px;line-height:0"><svg width="24" height="24" viewBox="0 0 24 24"><defs><linearGradient id="avg" x1="0" y1="0" x2="1" y2="1"><stop offset="0" stop-color="#76336a"/><stop offset="1" stop-color="#5a1c47"/></linearGradient></defs><rect width="24" height="24" rx="3.2" fill="url(#avg)"/><ellipse cx="4.9" cy="15.6" rx="1.7" ry="2.6" fill="#f2c596"/><path d="M5.6 10 C6 6.5 9 5.6 13 5.6 C17.5 5.6 20.6 7 20.8 10.5 L20.7 15.5 C20.3 20.2 17 23.3 13.2 23.3 C9.2 23.3 6.2 20 5.9 15.8 Z" fill="#f8d2a4"/><path d="M3.4 11.5 C2.6 6 6 1.5 11.5 1.2 C16 1 20.8 1.8 20.6 5.2 C20 6.8 17.5 7.2 14.8 7 C11.8 6.9 9.6 7.6 8.2 9.2 C7.3 10.3 6.8 11.8 6.5 13.2 L5 13.4 Z" fill="#1d1b24"/><rect x="8.7" y="11.3" width="4.5" height="3.9" rx=".5" fill="#e6dcd8" stroke="#3b3a45" stroke-width="1.15"/><rect x="15.2" y="11.3" width="4.5" height="3.9" rx=".5" fill="#e6dcd8" stroke="#3b3a45" stroke-width="1.15"/><path d="M13.2 12.6 H15.2" stroke="#3b3a45" stroke-width="1"/><path d="M11.9 18.2 Q14.2 19.9 16.4 18.1" fill="#c9ccd6" stroke="#8c7e80" stroke-width=".7"/></svg></div>
<div class="card" style="left:1017px;top:302px;height:134px"></div>
<div class="t" style="left:1026px;top:312.80px;font-size:15px;line-height:20px;color:#283140;letter-spacing:0.847px;-webkit-text-stroke:0.42px #283140;">Distributor Contract</div>
<div class="t" style="left:1026px;top:335.45px;font-size:14px;line-height:18px;color:#374151;letter-spacing:-0.1px;">$ 19,800.00</div>
<div class="t" style="left:1026px;top:356.65px;font-size:14px;line-height:18px;color:#374151;letter-spacing:0.32px;">Gemini Furniture</div>
<div class="tag" style="left:1026px;top:377.9px;background:#b7d4f8;color:#1b2a4e;width:86px;text-align:center">Information</div>
<div class="tag" style="left:1116px;top:377.9px;background:#a89af6;color:#231a4a;width:52.5px;text-align:center">Other</div>
<div class="a" style="left:1025.1px;top:404.09999999999997px;line-height:0"><svg width="19" height="19" viewBox="0 0 19 19"><polygon points="9.25,0.50 11.78,6.42 18.19,7.00 13.34,11.23 14.78,17.50 9.25,14.20 3.72,17.50 5.16,11.23 0.31,7.00 6.72,6.42" fill="#f4d200"/></svg></div>
<div class="a" style="left:1046.8px;top:404.09999999999997px;line-height:0"><svg width="19" height="19" viewBox="0 0 19 19"><polygon points="9.25,0.50 11.78,6.42 18.19,7.00 13.34,11.23 14.78,17.50 9.25,14.20 3.72,17.50 5.16,11.23 0.31,7.00 6.72,6.42" fill="#f4d200"/></svg></div>
<div class="a" style="left:1068.5px;top:404.09999999999997px;line-height:0"><svg width="19" height="19" viewBox="0 0 19 19"><polygon points="9.25,1.20 11.78,6.47 17.57,7.25 13.34,11.28 14.39,17.03 9.25,14.25 4.11,17.03 5.16,11.28 0.93,7.25 6.72,6.47" fill="none" stroke="#5a6478" stroke-width="1.15" stroke-linejoin="miter"/></svg></div>
<div class="a" style="left:1098.2px;top:407.2px;line-height:0"><svg width="16" height="16" viewBox="0 0 16 16"><path d="M3.2 0.8 L5.3 0.3 L6.9 4.2 L5.2 5.6 C6.1 7.9 7.9 9.8 10.3 10.8 L11.8 9.1 L15.6 10.8 L15.1 12.9 C14.7 14.4 13.4 15.3 11.9 15 C6.6 13.8 2.1 9.3 0.9 4 C0.6 2.5 1.6 1.1 3.2 0.8 Z" fill="#11982a"/></svg></div>
<div class="a" style="left:1287px;top:402.7px;line-height:0"><svg width="24" height="24" viewBox="0 0 24 24"><defs><linearGradient id="avg" x1="0" y1="0" x2="1" y2="1"><stop offset="0" stop-color="#76336a"/><stop offset="1" stop-color="#5a1c47"/></linearGradient></defs><rect width="24" height="24" rx="3.2" fill="url(#avg)"/><ellipse cx="4.9" cy="15.6" rx="1.7" ry="2.6" fill="#f2c596"/><path d="M5.6 10 C6 6.5 9 5.6 13 5.6 C17.5 5.6 20.6 7 20.8 10.5 L20.7 15.5 C20.3 20.2 17 23.3 13.2 23.3 C9.2 23.3 6.2 20 5.9 15.8 Z" fill="#f8d2a4"/><path d="M3.4 11.5 C2.6 6 6 1.5 11.5 1.2 C16 1 20.8 1.8 20.6 5.2 C20 6.8 17.5 7.2 14.8 7 C11.8 6.9 9.6 7.6 8.2 9.2 C7.3 10.3 6.8 11.8 6.5 13.2 L5 13.4 Z" fill="#1d1b24"/><rect x="8.7" y="11.3" width="4.5" height="3.9" rx=".5" fill="#e6dcd8" stroke="#3b3a45" stroke-width="1.15"/><rect x="15.2" y="11.3" width="4.5" height="3.9" rx=".5" fill="#e6dcd8" stroke="#3b3a45" stroke-width="1.15"/><path d="M13.2 12.6 H15.2" stroke="#3b3a45" stroke-width="1"/><path d="M11.9 18.2 Q14.2 19.9 16.4 18.1" fill="#c9ccd6" stroke="#8c7e80" stroke-width=".7"/></svg></div>
<div class="a" style="left:1352px;top:246.5px;width:140px;height:33px;background:#fff;border-radius:4px;box-shadow:0 0 1px rgba(0,0,0,.08)"></div>
<svg class="a" style="left:1474px;top:256.5px" width="12" height="12" viewBox="0 0 12 12"><rect x="4.6" y="0" width="2.8" height="12" fill="#1f2937"/><rect x="0" y="4.6" width="12" height="2.8" fill="#1f2937"/></svg>
</body></html>
